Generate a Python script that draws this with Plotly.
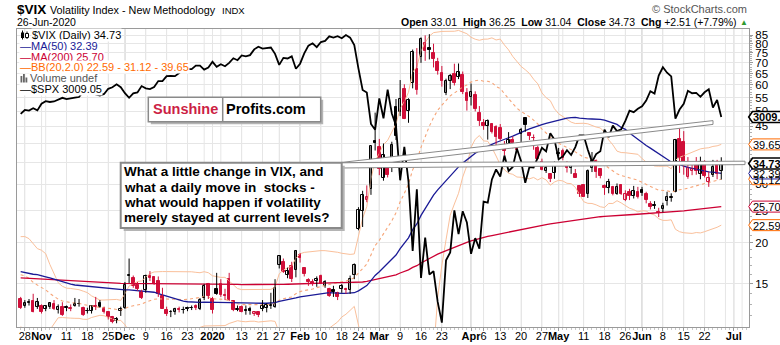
import numpy as np
import pandas as pd
import plotly.graph_objects as go

# ---------------------------------------------------------------- data
# VIX closes for Jan-Oct 2019, used only to seed the moving averages
vix_close_2019 = [
    23.22, 25.45, 21.38, 21.40, 20.47, 19.98, 19.50, 18.19, 19.07, 18.60, 19.04, 18.06, 17.80, 20.80, 19.52, 18.89, 17.42, 18.87, 19.13, 17.66, 16.57,
    16.14, 15.73, 15.57, 15.38, 16.37, 15.72, 15.97, 15.97, 15.65, 16.22, 15.43, 14.91, 14.46, 14.88, 13.51, 14.85, 13.57, 14.46, 14.78,
    13.57, 14.63, 14.74, 14.95, 16.59, 16.05, 14.33, 13.77, 13.41, 13.50, 12.88, 13.10, 13.56, 13.91, 13.63, 16.48, 16.33, 14.68, 13.71, 14.43, 13.71,
    13.36, 14.29, 13.74, 13.58, 12.82, 13.18, 14.28, 13.30, 13.02, 12.01, 12.09, 12.32, 12.18, 12.60, 12.09, 12.42, 12.28, 13.14, 12.73, 13.25, 13.12,
    14.80, 14.42, 12.87, 15.44, 19.32, 19.40, 19.10, 16.04, 20.55, 18.06, 16.44, 15.29, 15.96, 14.95, 15.85, 14.75, 14.42, 16.92, 17.50, 16.31, 17.90, 18.71,
    18.86, 16.97, 16.09, 15.93, 16.30, 15.94, 15.91, 15.99, 15.82, 15.28, 15.35, 14.33, 15.15, 14.75, 16.28, 15.26, 15.82, 15.08, 16.28, 15.08,
    14.06, 12.93, 12.57, 13.28, 13.96, 13.53, 13.12, 12.93, 12.39, 12.68, 13.53, 13.97, 12.86, 12.61, 12.16, 12.07, 12.83, 13.19, 13.19, 12.83, 13.94, 16.12,
    17.87, 17.61, 24.59, 20.17, 19.49, 16.91, 17.97, 21.09, 17.52, 22.10, 21.18, 18.47, 16.88, 17.50, 15.80, 16.68, 19.87, 19.32, 20.31, 19.35, 17.88, 18.98,
    19.66, 17.33, 15.27, 15.00, 15.27, 14.91, 14.61, 13.74, 13.74, 14.67, 14.44, 14.00, 15.32, 14.91, 15.96, 17.05, 16.07, 17.22, 16.24, 16.04,
    18.56, 20.56, 19.12, 17.04, 17.86, 20.28, 18.64, 17.57, 15.58, 14.57, 13.54, 13.68, 13.79, 14.25, 14.00, 14.46, 14.01, 13.71,
]

# daily VIX candles, 25-Oct-2019 .. 26-Jun-2020 (one row per month)
vix_open = [
    13.50, 12.90, 13.10, 13.30, 12.80,
    12.90, 12.60, 12.80, 13.00, 12.50, 12.80, 12.80, 12.60, 12.90, 13.00, 12.70, 12.40, 12.40, 12.90, 13.10, 12.60, 12.30, 11.90, 11.60, 12.40,
    12.70, 15.80, 15.60, 14.90, 14.20, 14.40, 15.90, 15.70, 15.30, 13.80, 12.50, 12.30, 12.30, 12.60, 12.50, 12.70, 12.70, 12.90, 12.60, 13.60, 15.00,
    13.50, 14.50, 15.00, 13.90, 15.50, 13.30, 12.50, 12.80, 12.50, 12.60, 12.20, 12.30, 12.60, 12.70, 12.90, 12.80, 17.10, 17.50, 16.00, 17.00, 16.50,
    18.30, 16.70, 15.40, 15.20, 15.30, 15.90, 14.80, 14.50, 14.40, 14.10, 14.50, 14.50, 14.40, 16.00, 22.00, 25.00, 27.00, 29.00, 40.50,
    39.00, 31.30, 34.70, 34.90, 51.40, 49.80, 58.50, 50.20, 61.00, 67.20, 73.00, 80.40, 77.60, 74.80, 70.50, 65.10, 56.80, 61.80, 64.60, 63.60, 64.20, 56.70,
    55.00, 56.00, 49.50, 46.00, 45.00, 45.70, 44.70, 44.60, 39.20, 39.70, 40.80, 38.50, 42.70, 47.70, 42.80, 41.50, 38.60, 35.00, 33.00, 32.20, 32.50,
    37.40, 37.80, 34.60, 33.60, 32.30, 29.70, 29.80, 28.00, 33.70, 35.40, 33.40, 29.60, 29.20, 29.50, 28.10, 29.80, 27.00, 28.40, 27.60, 28.50,
    28.90, 28.00, 26.10, 26.00, 24.70, 25.20, 26.80, 27.30, 28.50, 41.10, 40.40, 31.60, 33.00, 34.40, 32.20, 35.00, 30.60, 32.00, 34.70, 33.01,
]
vix_high = [
    13.70, 13.40, 13.50, 14.00, 13.60,
    13.00, 12.90, 13.20, 13.40, 13.00, 13.20, 12.90, 13.00, 13.60, 13.50, 12.80, 12.70, 12.90, 13.70, 13.40, 12.80, 12.40, 12.00, 11.90, 12.80,
    15.20, 17.90, 15.90, 15.20, 14.40, 16.00, 16.40, 15.80, 15.80, 14.60, 12.80, 12.50, 12.70, 12.80, 12.80, 12.80, 12.90, 13.00, 13.60, 15.00, 15.10,
    13.70, 16.20, 15.50, 14.50, 16.20, 13.40, 12.90, 12.90, 12.90, 12.80, 12.40, 12.40, 13.40, 13.10, 14.10, 15.50, 18.30, 17.90, 16.80, 17.50, 19.00,
    18.60, 16.80, 15.60, 15.50, 15.80, 16.00, 15.40, 14.60, 14.80, 14.20, 15.00, 14.60, 15.90, 17.30, 25.60, 28.70, 29.80, 39.20, 49.50,
    41.20, 39.90, 35.00, 40.40, 54.40, 62.10, 60.30, 54.70, 76.80, 77.60, 83.60, 84.80, 85.50, 80.00, 72.50, 68.50, 62.70, 64.80, 69.60, 69.70, 65.90, 58.70,
    60.60, 57.40, 51.80, 47.30, 47.20, 46.00, 45.30, 45.70, 40.60, 43.20, 41.90, 40.20, 44.50, 47.80, 43.00, 42.50, 39.30, 35.90, 34.80, 32.40, 35.20,
    38.70, 38.50, 35.30, 34.90, 33.40, 29.80, 30.00, 33.30, 37.60, 35.70, 33.50, 30.00, 31.20, 29.70, 30.20, 30.00, 28.80, 29.10, 29.70, 29.50,
    29.50, 28.50, 26.70, 26.70, 25.50, 26.40, 28.50, 28.20, 41.20, 44.40, 43.50, 36.30, 34.60, 36.30, 36.40, 35.50, 32.80, 35.60, 35.60, 36.25,
]
vix_low = [
    12.60, 12.70, 12.90, 12.30, 12.60,
    12.20, 12.40, 12.60, 12.50, 12.20, 12.00, 12.40, 12.40, 12.80, 12.80, 12.00, 12.20, 12.20, 12.50, 12.70, 12.20, 11.70, 11.40, 11.40, 12.00,
    12.60, 15.10, 14.60, 14.30, 13.50, 14.10, 15.30, 14.90, 13.70, 12.60, 12.00, 11.90, 12.10, 12.30, 12.20, 12.40, 12.50, 12.50, 12.50, 13.40, 13.50,
    12.20, 13.90, 13.70, 13.40, 13.30, 12.40, 12.40, 12.30, 12.10, 12.10, 12.00, 11.90, 12.40, 12.30, 12.60, 12.70, 16.70, 16.20, 15.60, 15.20, 15.70,
    17.40, 15.80, 14.80, 14.80, 14.70, 15.00, 14.60, 13.70, 13.70, 13.40, 14.10, 14.00, 14.00, 15.50, 21.80, 22.30, 26.50, 27.90, 38.00,
    32.00, 30.80, 31.50, 32.70, 40.90, 48.30, 47.30, 46.10, 58.60, 56.10, 70.00, 71.00, 71.70, 67.80, 64.50, 59.30, 55.90, 58.30, 59.80, 62.50, 56.30, 50.20,
    52.00, 49.90, 45.10, 43.90, 41.00, 42.80, 38.80, 40.70, 36.70, 39.50, 38.60, 37.60, 40.20, 43.30, 40.90, 38.20, 35.70, 33.10, 32.50, 30.50, 31.20,
    36.50, 35.50, 32.60, 32.30, 31.40, 27.50, 27.60, 27.30, 32.70, 31.40, 31.30, 27.90, 28.20, 27.80, 27.90, 27.90, 26.70, 26.90, 27.20, 27.20,
    27.70, 26.30, 25.20, 25.30, 23.90, 24.70, 25.90, 26.60, 28.40, 32.50, 32.10, 31.20, 32.00, 32.10, 31.10, 31.50, 29.50, 31.60, 31.10, 31.04,
]
vix_close = [
    12.65, 13.11, 13.20, 12.33, 13.22,
    12.30, 12.83, 13.10, 12.62, 12.73, 12.07, 12.69, 12.68, 13.00, 13.05, 12.05, 12.46, 12.86, 12.78, 12.78, 12.34, 11.87, 11.54, 11.75, 12.62,
    14.91, 15.96, 14.80, 14.52, 13.62, 15.86, 15.68, 14.99, 13.94, 12.63, 12.14, 12.29, 12.58, 12.50, 12.51, 12.61, 12.67, 12.65, 13.43, 14.82, 13.78,
    12.47, 14.02, 13.85, 13.79, 13.45, 12.54, 12.56, 12.32, 12.39, 12.42, 12.32, 12.10, 12.85, 12.91, 12.98, 14.56, 18.23, 16.28, 16.39, 15.49, 18.84,
    17.97, 16.05, 15.15, 14.96, 15.47, 15.04, 15.18, 13.74, 14.15, 13.68, 14.83, 14.38, 15.56, 17.08, 25.03, 27.85, 27.56, 39.16, 40.11,
    33.42, 36.82, 31.99, 39.62, 41.94, 54.46, 47.30, 53.90, 75.47, 57.83, 82.69, 75.91, 76.45, 72.00, 66.04, 61.59, 61.67, 63.95, 61.00, 65.54, 57.08, 53.54,
    57.06, 50.91, 46.80, 45.24, 46.70, 43.35, 41.67, 41.17, 37.76, 40.84, 40.11, 38.15, 43.83, 45.41, 41.98, 41.38, 35.93, 33.29, 33.57, 31.23, 34.15,
    37.19, 35.97, 33.61, 34.12, 31.44, 27.98, 27.57, 33.04, 35.28, 32.61, 31.89, 29.30, 30.53, 27.99, 29.53, 28.16, 28.01, 27.62, 28.59, 27.51,
    28.23, 26.84, 25.66, 25.81, 24.52, 25.81, 27.57, 27.57, 40.79, 36.09, 34.40, 33.67, 33.47, 32.94, 35.12, 31.77, 31.37, 33.84, 32.22, 34.73,
]
spx_close = [
    3022.55, 3039.42, 3036.89, 3046.77, 3037.56,
    3066.91, 3078.27, 3074.62, 3076.78, 3085.18, 3093.08, 3087.01, 3091.84, 3094.04, 3096.63, 3120.46, 3122.03, 3120.18, 3108.46, 3103.54, 3110.29, 3133.64, 3140.52, 3153.63, 3140.98,
    3113.87, 3093.20, 3112.76, 3117.43, 3145.91, 3135.96, 3132.52, 3141.63, 3168.57, 3168.80, 3191.45, 3192.52, 3191.14, 3205.37, 3221.22, 3224.01, 3223.38, 3239.91, 3240.02, 3221.29, 3230.78,
    3257.85, 3234.85, 3246.28, 3237.18, 3253.05, 3274.70, 3265.35, 3288.13, 3283.15, 3289.29, 3316.81, 3329.62, 3320.79, 3321.75, 3325.54, 3295.47, 3243.63, 3276.24, 3273.40, 3283.66, 3225.52,
    3248.92, 3297.59, 3334.69, 3345.78, 3327.71, 3352.09, 3357.75, 3379.45, 3373.94, 3380.16, 3370.29, 3386.15, 3373.23, 3337.75, 3225.89, 3128.21, 3116.39, 2978.76, 2954.22,
    3090.23, 3003.37, 3130.12, 3023.94, 2972.37, 2746.56, 2882.23, 2741.38, 2480.64, 2711.02, 2386.13, 2529.19, 2398.10, 2409.39, 2304.92, 2237.40, 2447.33, 2475.56, 2630.07, 2541.47, 2626.65, 2584.59,
    2470.50, 2526.90, 2488.65, 2663.68, 2659.41, 2749.98, 2789.82, 2761.63, 2846.06, 2783.36, 2799.55, 2874.56, 2823.16, 2736.56, 2799.31, 2797.80, 2836.74, 2878.48, 2863.39, 2939.51, 2912.43,
    2830.71, 2842.74, 2868.44, 2848.42, 2881.19, 2929.80, 2930.32, 2870.12, 2820.00, 2852.50, 2863.70, 2953.91, 2922.94, 2971.61, 2948.51, 2955.45, 2991.77, 3036.13, 3029.73, 3044.31,
    3055.73, 3080.82, 3122.87, 3112.35, 3193.93, 3232.39, 3207.18, 3190.14, 3002.10, 3041.31, 3066.59, 3124.74, 3113.49, 3115.34, 3097.74, 3117.86, 3131.29, 3050.33, 3083.76, 3009.05,
]

market_holidays = ["2019-11-28", "2019-12-25", "2020-01-01", "2020-01-20",
                   "2020-02-17", "2020-04-10", "2020-05-25", "2020-07-03"]
first_session = "2019-10-25"
last_calendar_day = "2020-07-10"

tick_dates = ["2019-10-28", "2019-11-01", "2019-11-11", "2019-11-18", "2019-11-25",
              "2019-12-02", "2019-12-09", "2019-12-16", "2019-12-23", "2020-01-02",
              "2020-01-13", "2020-01-21", "2020-01-27", "2020-02-03", "2020-02-10",
              "2020-02-18", "2020-02-24", "2020-03-02", "2020-03-09", "2020-03-16",
              "2020-03-23", "2020-04-01", "2020-04-06", "2020-04-13", "2020-04-20",
              "2020-04-27", "2020-05-01", "2020-05-11", "2020-05-18", "2020-05-26",
              "2020-06-01", "2020-06-08", "2020-06-15", "2020-06-22", "2020-07-01"]
tick_text = ["28", "<b>Nov</b>", "11", "18", "25", "<b>Dec</b>", "9", "16", "23",
             "<b>2020</b>", "13", "21", "27", "<b>Feb</b>", "10", "18", "24",
             "<b>Mar</b>", "9", "16", "23", "<b>Apr</b>", "6", "13", "20", "27",
             "<b>May</b>", "11", "18", "26", "<b>Jun</b>", "8", "15", "22", "<b>Jul</b>"]
month_starts = ["2019-11-01", "2019-12-02", "2020-01-02", "2020-02-03", "2020-03-02",
                "2020-04-01", "2020-05-01", "2020-06-01", "2020-07-01"]

vix_ticks = [15, 20, 25, 30, 35, 40, 45, 50, 55, 60, 65, 70, 75, 80, 85]

note_lines = ["What a little change in VIX, and",
              "what a daily move in\u00a0 stocks -",
              "what would happen if volatility",
              "merely stayed at current levels?"]

# ---------------------------------------------------------------- styling
FONT = "Liberation Sans, Arial, sans-serif"
BLACK = "#000000"
RED = "#d0103a"
NAVY = "#1a1a96"
MA200_C = "#cc0033"
ORANGE = "#ff6a00"
BB_BAND = "rgb(250,192,155)"
BB_MID = "rgb(246,165,120)"
GRID = "#e6e6e6"
GRID_MONTH = "#bcbcbc"
FRAME = "#9a9a9a"

W, H = 780, 345
PL, PR, PT, PB = 17, 749, 29, 327          # plot box in pixels
XLO, XHI = -0.88, 174.65                   # session index range
YLO, YHI = 1.0456, 1.9476                  # log10 VIX range
SLO, SHI = 3.34698, 3.53346                # log10 S&P 500 range


def px(xp):
    return (xp - PL) / (PR - PL)


def py(yp):
    return (PB - yp) / (PB - PT)


def vix_pix(v):
    return PB - (np.log10(v) - YLO) / (YHI - YLO) * (PB - PT)


def spx_pix(v):
    return PB - (np.log10(v) - SLO) / (SHI - SLO) * (PB - PT)


# ---------------------------------------------------------------- calendar
sessions = pd.bdate_range(first_session, last_calendar_day, freq="C",
                          holidays=market_holidays)
pos = {d: i for i, d in enumerate(sessions)}
n = len(vix_close)
x = np.arange(n)
tick_pos = [pos[pd.Timestamp(d)] for d in tick_dates]
month_pos = [pos[pd.Timestamp(d)] for d in month_starts]
week_pos = [i for i in range(1, len(sessions))
            if sessions[i].isocalendar()[1] != sessions[i - 1].isocalendar()[1]]
week_pos = [i for i in week_pos if i not in month_pos and i < XHI]

# ---------------------------------------------------------------- indicators
hist = pd.Series(vix_close_2019 + vix_close, dtype=float)
ma50 = hist.rolling(50).mean().iloc[-n:].to_numpy()
ma200 = hist.rolling(200).mean().iloc[-n:].to_numpy()
bb_mid = hist.rolling(20).mean().iloc[-n:].to_numpy()
bb_sd = hist.rolling(20).std(ddof=0).iloc[-n:].to_numpy()
bb_up = bb_mid + 2 * bb_sd
bb_lo = bb_mid - 2 * bb_sd

o = np.array(vix_open)
h = np.array(vix_high)
lo = np.array(vix_low)
c = np.array(vix_close)
prev = np.concatenate([[vix_close_2019[-1]], c[:-1]])

fig = go.Figure()

# Bollinger bands and moving averages
fig.add_trace(go.Scatter(x=x, y=bb_up, mode="lines", line=dict(color=BB_BAND, width=1)))
fig.add_trace(go.Scatter(x=x, y=bb_lo, mode="lines", line=dict(color=BB_BAND, width=1)))
fig.add_trace(go.Scatter(x=x, y=bb_mid, mode="lines", line=dict(color=BB_MID, width=1.1, dash="dot")))
fig.add_trace(go.Scatter(x=x, y=ma200, mode="lines", line=dict(color=MA200_C, width=1.3)))
fig.add_trace(go.Scatter(x=x, y=ma50, mode="lines", line=dict(color=NAVY, width=1.3)))

# candle wicks
for col, sel in ((BLACK, c >= prev), (RED, c < prev)):
    wx, wy = [], []
    for i in np.where(sel)[0]:
        wx += [i, i, None]
        wy += [lo[i], h[i], None]
    fig.add_trace(go.Scatter(x=wx, y=wy, mode="lines", line=dict(color=col, width=1)))

# candle bodies: hollow when close > open, red when close < previous close
for col, colsel in ((BLACK, c >= prev), (RED, c < prev)):
    for hollow in (True, False):
        sel = colsel & ((c > o) if hollow else (c <= o))
        idx = np.where(sel)[0]
        if len(idx) == 0:
            continue
        base = np.minimum(o[idx], c[idx])
        size = np.abs(c[idx] - o[idx])
        fig.add_trace(go.Bar(
            x=idx, y=size, base=base, width=0.62,
            marker=dict(color="white" if hollow else col,
                        line=dict(color=col, width=1))))

# S&P 500 overlay on its own log scale
fig.add_trace(go.Scatter(x=x, y=spx_close, yaxis="y2", mode="lines",
                         line=dict(color=BLACK, width=1.8)))

shapes = []
for i in week_pos:
    shapes.append(dict(type="line", xref="x", yref="paper", x0=i, x1=i, y0=0, y1=1,
                       line=dict(color=GRID, width=1), layer="below"))
for i in month_pos:
    shapes.append(dict(type="line", xref="x", yref="paper", x0=i, x1=i, y0=0, y1=1,
                       line=dict(color=GRID_MONTH, width=1), layer="below"))


def poly(points, fill, line_color, width=1):
    d = "M " + " L ".join(f"{px(a):.5f},{py(b):.5f}" for a, b in points) + " Z"
    return dict(type="path", xref="paper", yref="paper", path=d,
                fillcolor=fill, line=dict(color=line_color, width=width), layer="above")


def rect(x0, y0, x1, y1, fill, line_color=None, width=0):
    return dict(type="rect", xref="paper", yref="paper",
                x0=px(x0), x1=px(x1), y0=py(y1), y1=py(y0), fillcolor=fill,
                line=dict(color=line_color or fill, width=width), layer="above")


# call-out pointers and note box
shapes.append(poly([(341, 162.7), (745, 161.2), (745, 164.6), (341, 168)], "white", "#8a8a8a", 1))
shapes.append(poly([(339, 162.7), (713, 120.6), (713, 124.4), (392, 162.2)], "white", "#8a8a8a", 1))
shapes.append(rect(123.7, 165.7, 344.7, 231, "#b4b4b4"))
shapes.append(rect(120.7, 162.7, 341.7, 228, "white", "#8a8a8a", 2))

# logo box
shapes.append(rect(150.8, 99.8, 323.2, 124.2, "#b4b4b4"))
shapes.append(rect(148.3, 97.3, 320.7, 121.7, "white", "#8a8a8a", 1.5))
shapes.append(dict(type="line", xref="paper", yref="paper", x0=px(222.7), x1=px(222.7),
                   y0=py(121.7), y1=py(97.3), line=dict(color="#8a8a8a", width=1.5), layer="above"))

# legend icons
shapes.append(dict(type="line", xref="paper", yref="paper", x0=px(22.5), x1=px(22.5),
                   y0=py(40), y1=py(30.5), line=dict(color=BLACK, width=1), layer="above"))
shapes.append(rect(21, 32.5, 24, 38, BLACK))
shapes.append(dict(type="line", xref="paper", yref="paper", x0=px(27), x1=px(27),
                   y0=py(39), y1=py(31.5), line=dict(color=BLACK, width=1), layer="above"))
shapes.append(rect(25.5, 33.5, 28.5, 37.5, "white", BLACK, 1))
for bx, top in ((20.5, 76), (23, 74), (25.5, 77.5)):
    shapes.append(rect(bx, top, bx + 1.8, 83, "#666666"))

annotations = []


def text(s, xp, yp, size=11, color=BLACK, xanchor="left", yanchor="middle", bg=None,
         family=FONT):
    a = dict(text=s, x=px(xp), y=py(yp), xref="paper", yref="paper", showarrow=False,
             xanchor=xanchor, yanchor=yanchor, font=dict(family=family, size=size, color=color),
             borderpad=0)
    if bg:
        a["bgcolor"] = bg
    annotations.append(a)


# value tags on the right axis
tags = [
    (vix_pix(bb_lo[-1]), f"{bb_lo[-1]:.2f}", ORANGE, False),
    (vix_pix(ma200[-1]), f"{ma200[-1]:.2f}", MA200_C, False),
    (vix_pix(bb_mid[-1]), f"{bb_mid[-1]:.2f}", ORANGE, False),
    (vix_pix(ma50[-1]), f"{ma50[-1]:.2f}", NAVY, False),
    (vix_pix(c[-1]), f"{c[-1]:.2f}", BLACK, True),
    (vix_pix(bb_up[-1]), f"{bb_up[-1]:.2f}", ORANGE, False),
    (spx_pix(spx_close[-1]), f"{spx_close[-1]:.2f}", BLACK, True),
]
for yc, label, col, bold in tags:
    shapes.append(poly([(748.7, yc), (752.5, yc - 5.5), (795, yc - 5.5), (795, yc + 5.5),
                        (752.5, yc + 5.5)], "white", col, 1.6 if bold else 1))
    text(f"<b>{label}</b>" if bold else label, 752, yc + 0.5, size=11)

# header
text("<b>$VIX</b>", 16, 9.5, size=13.5)
text("Volatility Index - New Methodology", 49, 10, size=10.8)
text("INDX", 221, 10.5, size=9.5)
text("26-Jun-2020", 16, 22.5, size=10.5)
text("\u00a9 StockCharts.com", 748, 9.5, size=11, color="#555555", xanchor="right")
chg = c[-1] - c[-2]
pct = chg / c[-2] * 100
sp = "\u00a0\u00a0"
text(f"<b>Open</b> {o[-1]:.2f}{sp}<b>High</b> {h[-1]:.2f}{sp}<b>Low</b> {lo[-1]:.2f}{sp}"
     f"<b>Close</b> {c[-1]:.2f}{sp}<b>Chg</b> {chg:+.2f} ({pct:+.2f}%)",
     738, 22.5, size=10.5, xanchor="right")
text("\u25b2", 744, 22, size=8, color="#2f9a2f", xanchor="center")

# legend rows
legend_rows = [
    (f"$VIX (Daily) {c[-1]:.2f}", BLACK, 30.5),
    (f"\u2014MA(50) {ma50[-1]:.2f}", NAVY, 19),
    (f"\u2014MA(200) {ma200[-1]:.2f}", MA200_C, 19),
    (f"\u2014BB(20,2.0) {bb_lo[-1]:.2f} - {bb_mid[-1]:.2f} - {bb_up[-1]:.2f}", ORANGE, 19),
    ("Volume undef", "#555555", 28.5),
    (f"\u2014$SPX {spx_close[-1]:.2f}", BLACK, 19),
]
for k, (s, col, xs) in enumerate(legend_rows):
    text(s, xs, 35 + k * 10.8, size=11, color=col, bg="white")

# logo and note
text("<b>Sunshine</b>", 151.5, 109.5, size=14.5, color="#cc1f45")
text("<b>Profits.com</b>", 225, 109.5, size=14.5)
for k, s in enumerate(note_lines):
    text(f"<b>{s}</b>", 123, 171.7 + k * 15.4, size=13.5)

fig.update_layout(
    width=W, height=H, autosize=False,
    margin=dict(l=PL, r=W - PR, t=PT, b=H - PB, pad=0, autoexpand=False),
    paper_bgcolor="white", plot_bgcolor="white",
    showlegend=False, barmode="overlay", bargap=0,
    font=dict(family=FONT, size=11, color=BLACK),
    xaxis=dict(range=[XLO, XHI], tickmode="array", tickvals=tick_pos, ticktext=tick_text,
               tickangle=0, automargin=False, ticklabelstandoff=-4,
               showgrid=True, gridcolor=GRID, zeroline=False,
               showline=True, linecolor=FRAME, linewidth=1, mirror=True,
               ticks="outside", ticklen=3, tickcolor=FRAME,
               tickfont=dict(size=11, color=BLACK),
               minor=dict(tickmode="linear", tick0=0, dtick=1, ticks="outside",
                          ticklen=2, tickcolor="#c8c8c8", showgrid=False)),
    yaxis=dict(type="log", range=[YLO, YHI], side="right", tickmode="array",
               tickvals=vix_ticks, ticktext=[str(v) for v in vix_ticks],
               automargin=False,
               showgrid=True, gridcolor=GRID, zeroline=False,
               showline=True, linecolor=FRAME, linewidth=1, mirror=True,
               ticks="outside", ticklen=3, tickcolor=FRAME,
               tickfont=dict(size=11.5, color=BLACK),
               minor=dict(tickmode="array",
                          tickvals=[v for v in range(11, 86) if v % 5],
                          ticks="outside", ticklen=2, tickcolor="#b0b0b0", showgrid=False)),
    yaxis2=dict(type="log", range=[SLO, SHI], overlaying="y", visible=False),
    shapes=shapes,
    annotations=annotations,
)

fig.write_html("out.html")
